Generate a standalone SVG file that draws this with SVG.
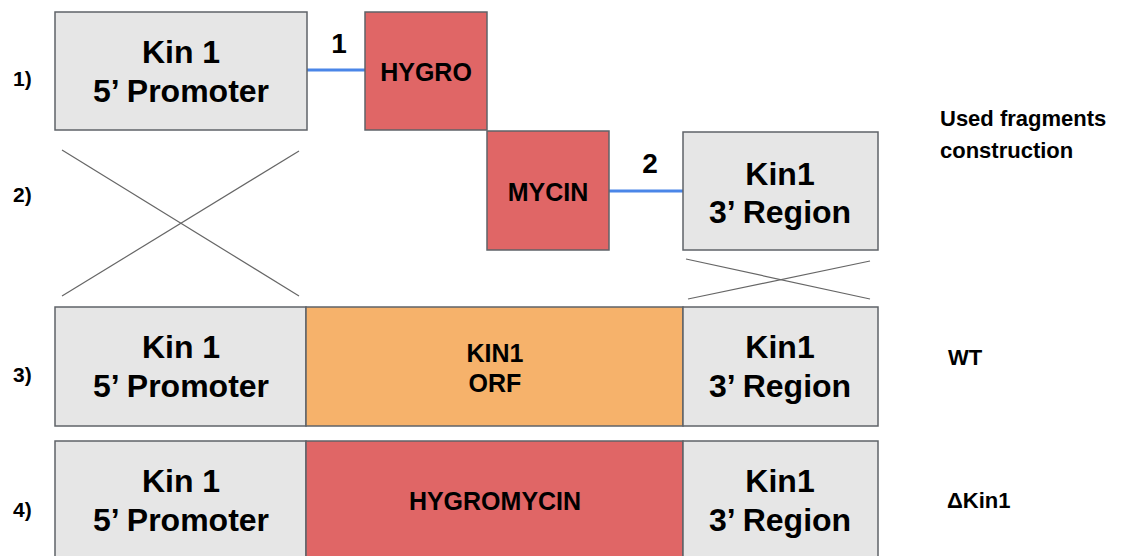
<svg xmlns="http://www.w3.org/2000/svg" width="1141" height="556" viewBox="0 0 1141 556">
<style>
text{font-family:"Liberation Sans",Arial,sans-serif;font-weight:bold;fill:#000}
.box{stroke:#5f6368;stroke-width:1.5}
.grey{fill:#e6e6e6}
.red{fill:#e06666}
.orange{fill:#f6b26b}
.big{font-size:32px;text-anchor:middle}
.mid{font-size:25px;text-anchor:middle}
.lab{font-size:22px}
.row{font-size:21px}
.cross{stroke:#666;stroke-width:1.2}
.link{stroke:#4a86e8;stroke-width:3}
</style>
<rect width="1141" height="556" fill="#fff"/>
<g id="row-labels">
<text class="row" x="13" y="86">1)</text>
<text class="row" x="13" y="202">2)</text>
<text class="row" x="13" y="382">3)</text>
<text class="row" x="13" y="517">4)</text>
</g>
<g id="connectors">
<line class="link" x1="307" y1="70" x2="365" y2="70"/>
<line class="link" x1="609" y1="191" x2="683" y2="191"/>
<line class="cross" x1="62" y1="150" x2="299" y2="296"/>
<line class="cross" x1="299" y1="151" x2="62" y2="296"/>
<line class="cross" x1="686" y1="259" x2="870" y2="299"/>
<line class="cross" x1="870" y1="261" x2="688" y2="299"/>
<text class="big" x="339" y="53" style="font-size:28px">1</text>
<text class="big" x="650" y="173" style="font-size:28px">2</text>
</g>
<g id="promoter1">
<rect class="box grey" x="55" y="12" width="252" height="118"/>
<text class="big" x="181" y="63">Kin 1</text>
<text class="big" x="181" y="102">5’ Promoter</text>
</g>
<g id="hygro">
<rect class="box red" x="365" y="12" width="122" height="118"/>
<text class="mid" x="426" y="81">HYGRO</text>
</g>
<g id="mycin">
<rect class="box red" x="487" y="131" width="122" height="119"/>
<text class="mid" x="548" y="201">MYCIN</text>
</g>
<g id="region1">
<rect class="box grey" x="683" y="132" width="195" height="118"/>
<text class="big" x="780" y="185">Kin1</text>
<text class="big" x="780" y="223">3’ Region</text>
</g>
<g id="wt-promoter">
<rect class="box grey" x="55" y="307" width="251" height="119"/>
<text class="big" x="181" y="358">Kin 1</text>
<text class="big" x="181" y="397">5’ Promoter</text>
</g>
<g id="wt-orf">
<rect class="box orange" x="306" y="307" width="377" height="119"/>
<text class="mid" x="495" y="362">KIN1</text>
<text class="mid" x="495" y="392">ORF</text>
</g>
<g id="wt-region">
<rect class="box grey" x="683" y="307" width="195" height="119"/>
<text class="big" x="780" y="358">Kin1</text>
<text class="big" x="780" y="397">3’ Region</text>
</g>
<g id="ko-promoter">
<rect class="box grey" x="55" y="441" width="251" height="120"/>
<text class="big" x="181" y="492">Kin 1</text>
<text class="big" x="181" y="531">5’ Promoter</text>
</g>
<g id="ko-hygromycin">
<rect class="box red" x="306" y="441" width="377" height="120"/>
<text class="mid" x="495" y="510">HYGROMYCIN</text>
</g>
<g id="ko-region">
<rect class="box grey" x="683" y="441" width="195" height="120"/>
<text class="big" x="780" y="492">Kin1</text>
<text class="big" x="780" y="531">3’ Region</text>
</g>
<g id="side-labels">
<text class="lab" x="940" y="126">Used fragments</text>
<text class="lab" x="940" y="158">construction</text>
<text class="lab" x="948" y="365">WT</text>
<text class="lab" x="947" y="508">ΔKin1</text>
</g>
</svg>
